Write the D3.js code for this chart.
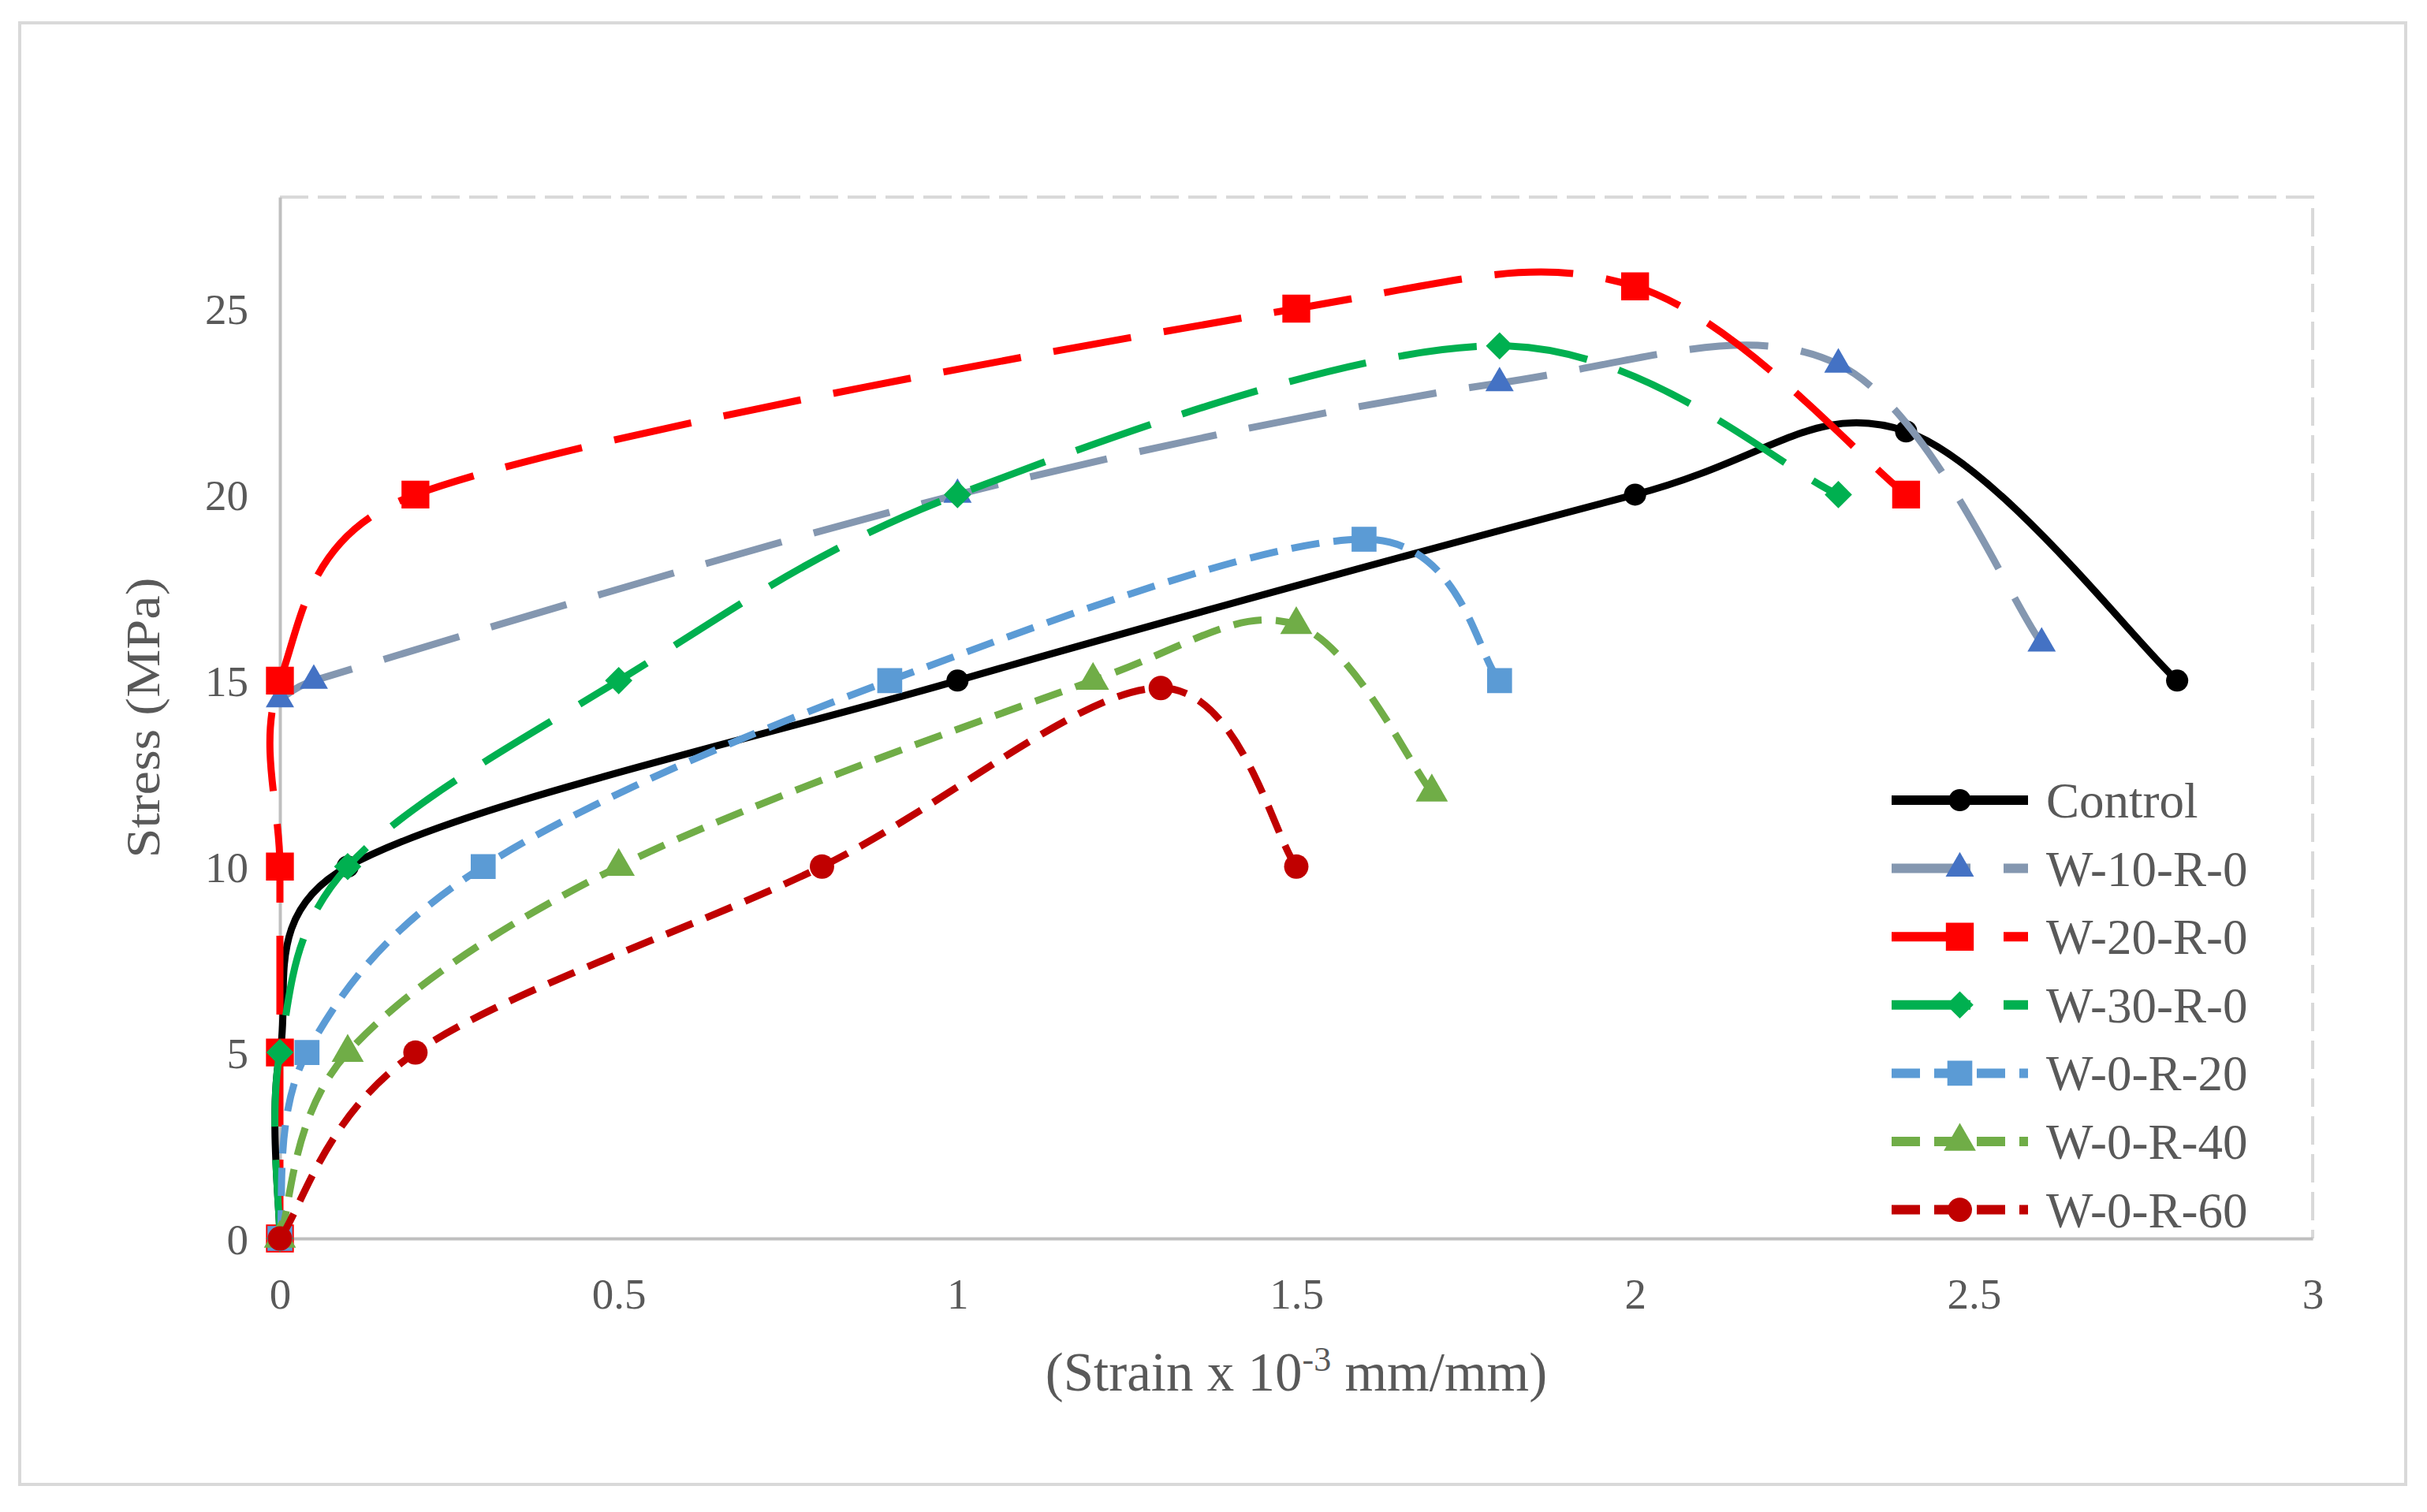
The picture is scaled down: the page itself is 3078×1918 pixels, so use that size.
<!DOCTYPE html>
<html>
<head>
<meta charset="utf-8">
<script src="https://cdn.jsdelivr.net/npm/d3@7"></script>
<style>
  body { margin: 0; background: #fff; }
  text { font-family: "Liberation Serif", "Times New Roman", serif; fill: #595959; }
</style>
</head>
<body>
<div id="chart"></div>
<script>
// series names
const seriesNames = ["Control", "W-10-R-0", "W-20-R-0", "W-30-R-0", "W-0-R-20", "W-0-R-40", "W-0-R-60"];

// strain (x) and stress (y)
const controlX = [0, 0, 0.1, 1, 2, 2.4, 2.8];
const controlY = [0, 5, 10, 15, 20, 21.7, 15];
const w10X = [0, 0.05, 1, 1.8, 2.3, 2.6];
const w10Y = [14.5, 15, 20, 23, 23.5, 16];
const w20X = [0, 0, 0, 0, 0.2, 1.5, 2.0, 2.4];
const w20Y = [0, 5, 10, 15, 20, 25, 25.6, 20];
const w30X = [0, 0, 0.1, 0.5, 1, 1.8, 2.3];
const w30Y = [0, 5, 10, 15, 20, 24, 20];
const r20X = [0, 0.04, 0.3, 0.9, 1.6, 1.8];
const r20Y = [0, 5, 10, 15, 18.8, 15];
const r40X = [0, 0.1, 0.5, 1.2, 1.5, 1.7];
const r40Y = [0, 5, 10, 15, 16.5, 12];
const r60X = [0, 0.2, 0.8, 1.3, 1.5];
const r60Y = [0, 5, 10, 14.8, 10];

const xTicks = [0, 0.5, 1, 1.5, 2, 2.5, 3];
const yTicks = [0, 5, 10, 15, 20, 25];

// 样式
const styles = [
  { line: "#000000", marker: "#000000", dash: null, width: 9, shape: d3.symbolCircle, size: 620, rot: 0 },
  { line: "#8497B0", marker: "#4472C4", dash: "100,42", width: 9, shape: d3.symbolTriangle, size: 560, rot: 0 },
  { line: "#FF0000", marker: "#FF0000", dash: "100,42", width: 9, shape: d3.symbolSquare, size: 1250, rot: 0 },
  { line: "#00B050", marker: "#00B050", dash: "100,42", width: 9, shape: d3.symbolSquare, size: 600, rot: 45 },
  { line: "#5B9BD5", marker: "#5B9BD5", dash: "36,18", width: 9, shape: d3.symbolSquare, size: 1000, rot: 0 },
  { line: "#70AD47", marker: "#70AD47", dash: "36,18", width: 9, shape: d3.symbolTriangle, size: 720, rot: 0 },
  { line: "#C00000", marker: "#C00000", dash: "36,18", width: 9, shape: d3.symbolCircle, size: 750, rot: 0 }
];

const allX = [controlX, w10X, w20X, w30X, r20X, r40X, r60X];
const allY = [controlY, w10Y, w20Y, w30Y, r20Y, r40Y, r60Y];
const series = seriesNames.map((name, i) => ({
  name: name,
  style: styles[i],
  points: allX[i].map((x, j) => ({ x: x, y: allY[i][j] }))
}));

const W = 3078, H = 1918;
const margin = { left: 355, right: W - 2933, top: 250, bottom: H - 1571 };

const svg = d3.select("#chart").append("svg")
  .attr("width", W)
  .attr("height", H);

// outer border
svg.append("rect")
  .attr("x", 25).attr("y", 29)
  .attr("width", 3026).attr("height", 1854)
  .attr("fill", "none")
  .attr("stroke", "#D9D9D9")
  .attr("stroke-width", 4);

const x = d3.scaleLinear().domain([0, 3]).range([margin.left, W - margin.right]);
const y = d3.scaleLinear().domain([0, 28]).range([H - margin.bottom, margin.top]);

// plot area border, dashed top/right
svg.append("path")
  .attr("d", `M${x(0)},${y(28)}H${x(3)}V${y(0)}`)
  .attr("fill", "none")
  .attr("stroke", "#D9D9D9")
  .attr("stroke-width", 4)
  .attr("stroke-dasharray", "36,12");

// axes
const xAxis = svg.append("g")
  .attr("transform", `translate(0,${y(0)})`)
  .call(d3.axisBottom(x).tickValues(xTicks).tickSize(0).tickPadding(50).tickFormat(d3.format("")));
const yAxis = svg.append("g")
  .attr("transform", `translate(${x(0)},0)`)
  .call(d3.axisLeft(y).tickValues(yTicks).tickSize(0).tickPadding(40));

[xAxis, yAxis].forEach(g => {
  g.select(".domain").attr("stroke", "#BFBFBF").attr("stroke-width", 4);
  g.selectAll("text")
    .style("font-family", "'Liberation Serif', serif")
    .style("font-size", "55px")
    .attr("fill", "#595959");
});
yAxis.selectAll("text").attr("dy", "0.35em");

// axis titles
const xTitle = svg.append("text")
  .attr("x", (x(0) + x(3)) / 2)
  .attr("y", 1764)
  .attr("text-anchor", "middle")
  .style("font-size", "69px");
xTitle.append("tspan").text("(Strain x 10");
xTitle.append("tspan").attr("dy", -25).style("font-size", "44px").text("-3");
xTitle.append("tspan").attr("dy", 25).text(" mm/mm)");

svg.append("text")
  .attr("transform", `translate(202,${(y(0) + y(28)) / 2}) rotate(-90)`)
  .attr("text-anchor", "middle")
  .attr("textLength", 356)
  .attr("lengthAdjust", "spacingAndGlyphs")
  .style("font-size", "62px")
  .text("Stress (MPa)");

// Excel风格的平滑曲线: Catmull-Rom 贝塞尔, 控制臂不超过半段长度
function smoothPath(data) {
  const pts = data.map(d => [x(d.x), y(d.y)]);
  const p = d3.path();
  const dist = (a, b) => Math.hypot(b[0] - a[0], b[1] - a[1]);
  p.moveTo(pts[0][0], pts[0][1]);
  for (let i = 0; i < pts.length - 1; i++) {
    const p0 = pts[i - 1] || pts[i], p1 = pts[i], p2 = pts[i + 1], p3 = pts[i + 2] || pts[i + 1];
    const d12 = dist(p1, p2), d02 = dist(p0, p2), d13 = dist(p1, p3);
    const f1 = d02 === 0 ? 0 : (d02 / 6 < d12 / 2 ? 1 / 6 : d12 / (2 * d02));
    const f2 = d13 === 0 ? 0 : (d13 / 6 < d12 / 2 ? 1 / 6 : d12 / (2 * d13));
    p.bezierCurveTo(
      p1[0] + f1 * (p2[0] - p0[0]), p1[1] + f1 * (p2[1] - p0[1]),
      p2[0] - f2 * (p3[0] - p1[0]), p2[1] - f2 * (p3[1] - p1[1]),
      p2[0], p2[1]);
  }
  return p.toString();
}

const plot = svg.append("g");

series.forEach(s => {
  const g = plot.append("g");
  g.append("path")
    .datum(s.points)
    .attr("d", smoothPath)
    .attr("fill", "none")
    .attr("stroke", s.style.line)
    .attr("stroke-width", s.style.width)
    .attr("stroke-dasharray", s.style.dash);
  g.selectAll("path.marker")
    .data(s.points)
    .enter().append("path")
    .attr("class", "marker")
    .attr("transform", d => `translate(${x(d.x)},${y(d.y)}) rotate(${s.style.rot})`)
    .attr("d", d3.symbol().type(s.style.shape).size(s.style.size))
    .attr("fill", s.style.marker);
});

// 图例
const legendX1 = 2399, legendX2 = 2572, legendTop = 1015, legendStep = 86.6;
const legend = svg.selectAll(".legend")
  .data(series)
  .enter().append("g")
  .attr("class", "legend")
  .attr("transform", (d, i) => `translate(0,${legendTop + i * legendStep})`);

legend.append("line")
  .attr("x1", legendX1).attr("x2", legendX2)
  .attr("stroke", d => d.style.line)
  .attr("stroke-width", d => d.style.width + 3)
  .attr("stroke-dasharray", d => d.style.dash);

legend.append("path")
  .attr("transform", d => `translate(${(legendX1 + legendX2) / 2},0) rotate(${d.style.rot})`)
  .attr("d", d => d3.symbol().type(d.style.shape).size(d.style.size)())
  .attr("fill", d => d.style.marker);

legend.append("text")
  .attr("x", 2595)
  .attr("dy", "0.35em")
  .style("font-size", "63px")
  .text(d => d.name);
</script>
</body>
</html>
